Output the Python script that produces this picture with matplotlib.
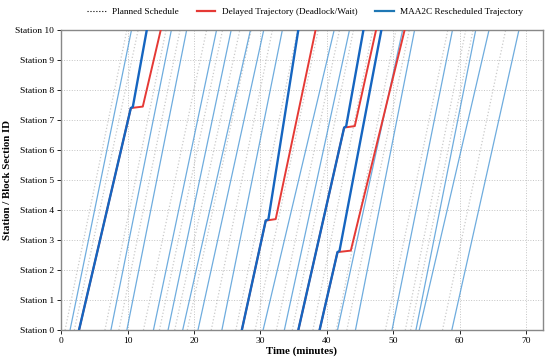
import matplotlib
matplotlib.use("Agg")
import matplotlib.pyplot as plt
from matplotlib.lines import Line2D

# 字体设置
plt.rcParams["font.family"] = ["Liberation Serif", "DejaVu Serif"]

# ----------------------------
# 数据
# ----------------------------
# 计划时刻表：每列车在 Station 0 与 Station 10 的时刻
planned_start = [0.6, 2.0, 6.6, 8.7, 12.4, 14.8, 17.1, 19.0, 22.6, 26.3,
                 29.2, 32.4, 34.8, 37.9, 41.4, 43.0, 48.8, 51.8, 52.6, 57.4]
planned_end = [9.9, 11.6, 15.8, 17.9, 21.9, 24.3, 26.9, 28.6, 31.8, 35.6,
               38.7, 41.9, 44.0, 46.9, 50.4, 52.4, 58.2, 60.9, 62.0, 66.9]

# MAA2C 正常运行列车
blue_start = [1.35, 7.5, 9.9, 13.9, 16.1, 18.3, 20.6, 24.2, 30.4, 33.6,
              41.6, 44.3, 49.8, 53.4, 53.9, 58.8]
blue_end = [10.6, 16.6, 18.9, 23.4, 25.6, 28.5, 30.5, 33.3, 41.1, 43.4,
            51.4, 53.2, 58.9, 62.4, 64.4, 68.9]

# 发生死锁/等待的列车
dis_start = [2.7, 27.2, 35.7, 38.9]
dis_station = [7.4, 3.65, 6.75, 2.6]
dis_hit = [10.5, 30.8, 42.6, 41.6]
maa_resume = [10.8, 31.2, 42.9, 41.9]
maa_end = [12.9, 35.7, 45.5, 48.2]
wait_resume = [12.3, 32.3, 44.2, 43.6]
wait_end = [15.0, 38.3, 47.4, 51.7]

stations = list(range(0, 11))
station_labels = [f"Station {s}" for s in stations]

blue = "#1f77b4"
light_blue = "#4b98d6"
dark_blue = "#1565c0"
red = "#e53935"

fig, ax = plt.subplots(figsize=(5.5, 3.62), dpi=100)
fig.subplots_adjust(left=0.111, right=0.987, top=0.917, bottom=0.088)

# 计划运行线
for s, e in zip(planned_start, planned_end):
    ax.plot([s, e], [0, 10], color="#a8a8a8", lw=0.9, ls=":", alpha=0.6, zorder=1)

# 正常运行线
for s, e in zip(blue_start, blue_end):
    ax.plot([s, e], [0, 10], color=light_blue, lw=0.9, alpha=0.8, zorder=2)

# 死锁/等待轨迹与重调度轨迹
for i in range(len(dis_start)):
    st = dis_station[i]
    ax.plot([dis_start[i], dis_hit[i], wait_resume[i], wait_end[i]],
            [0, st, st + 0.05, 10], color=red, lw=1.4, zorder=3)
    ax.plot([dis_start[i], dis_hit[i], maa_resume[i], maa_end[i]],
            [0, st, st + 0.04, 10], color=dark_blue, lw=1.7, zorder=4)

ax.set_xlim(0, 72.5)
ax.set_ylim(0, 10)
ax.set_xticks(range(0, 71, 10))
ax.set_yticks(stations)
ax.set_yticklabels(station_labels)
ax.tick_params(labelsize=6.8, length=3, width=0.6, pad=2)
ax.grid(True, ls=":", color="#c4c4c4", lw=0.7)
for sp in ax.spines.values():
    sp.set_color("#888888")
    sp.set_linewidth(1.0)

ax.set_xlabel("Time (minutes)", fontsize=7.8, fontweight="bold", labelpad=1)
ax.set_ylabel("Station / Block Section ID", fontsize=7.8, fontweight="bold", labelpad=2)

handles = [
    Line2D([0], [0], color="black", lw=0.8, ls=":"),
    Line2D([0], [0], color=red, lw=1.6),
    Line2D([0], [0], color=blue, lw=1.6),
]
labels = ["Planned Schedule", "Delayed Trajectory (Deadlock/Wait)",
          "MAA2C Rescheduled Trajectory"]
fig.legend(handles, labels, loc="center", bbox_to_anchor=(0.555, 0.968), ncol=3,
           frameon=False, fontsize=6.7, handlelength=2.0, columnspacing=1.9,
           handletextpad=0.7)

fig.savefig("out.png", dpi=100)
